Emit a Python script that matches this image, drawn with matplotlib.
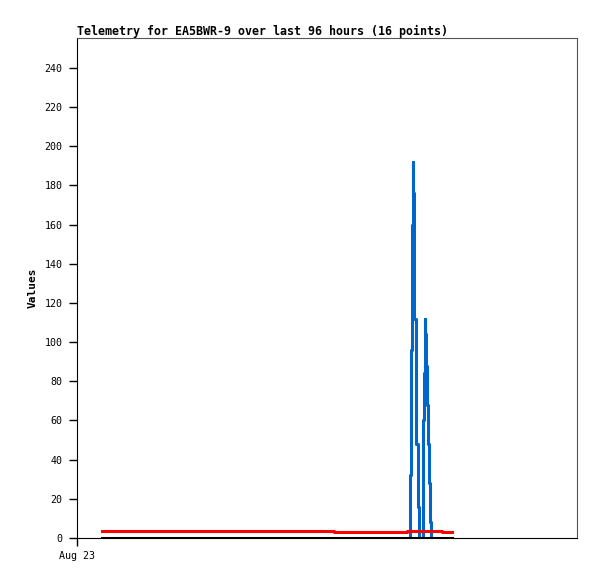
'''
Telemetry chart for EA5BWR-9, last 96 hours
'''
import matplotlib
matplotlib.use('Agg')
import matplotlib.pyplot as plt

# hours since Aug 23 00:00
title = 'Telemetry for EA5BWR-9 over last 96 hours (16 points)'
x_ticks = [0]
x_tick_labels = ['Aug 23']
y_ticks = list(range(0, 241, 20))

# red channel (step values)
red_hours = [4.8, 22.1, 49.3, 63.4, 70.1, 72.0]
red_values = [3.8, 3.4, 3.0, 3.8, 3.0, 3.0]

# black channel, flat at zero
black_hours = [4.8, 72.0]
black_values = [0, 0]

# blue channel (step values)
blue_hours = [63.80, 63.94, 64.13, 64.32, 64.42, 64.57, 64.67, 64.80, 65.00, 65.18,
              65.38, 65.63, 66.37, 66.48, 66.62, 66.76, 66.91, 67.07, 67.20,
              67.39, 67.58, 67.78, 67.97]
blue_values = [0, 32, 96, 160, 192, 176, 144, 112, 80, 48,
               16, 0, 28, 60, 84, 112, 104, 88, 68,
               48, 28, 8, 0]

fig = plt.figure(figsize=(5.97, 5.79), dpi=100)
ax = fig.add_axes([77/597, 41/579, 500/597, 500/579])

ax.step(blue_hours, blue_values, where='post', color='#0066cc', lw=2.2, zorder=2)
ax.step(red_hours, red_values, where='post', color='#ff0000', lw=2.2, zorder=3)
ax.plot(black_hours, black_values, color='black', lw=2.2, zorder=4)

ax.set_xlim(0, 96)
ax.set_ylim(0, 255.3)
ax.set_xticks(x_ticks)
ax.set_xticklabels(x_tick_labels)
ax.set_yticks(y_ticks)

mono = 'DejaVu Sans Mono'
for lab in ax.get_xticklabels() + ax.get_yticklabels():
    lab.set_family(mono)
    lab.set_fontsize(7.2)
ax.tick_params(direction='out', length=5.5, width=1, color='black', pad=5)
ax.tick_params(axis='x', pad=4)

for side in ['top', 'right']:
    ax.spines[side].set_color('#555555')
for side in ['left', 'bottom']:
    ax.spines[side].set_color('black')

ax.set_ylabel('Values', family=mono, fontsize=8, fontweight='bold', labelpad=5)
ax.set_title(title, family=mono, fontsize=8.4, fontweight='bold', loc='left', pad=2)

fig.savefig('out.png', dpi=100)
